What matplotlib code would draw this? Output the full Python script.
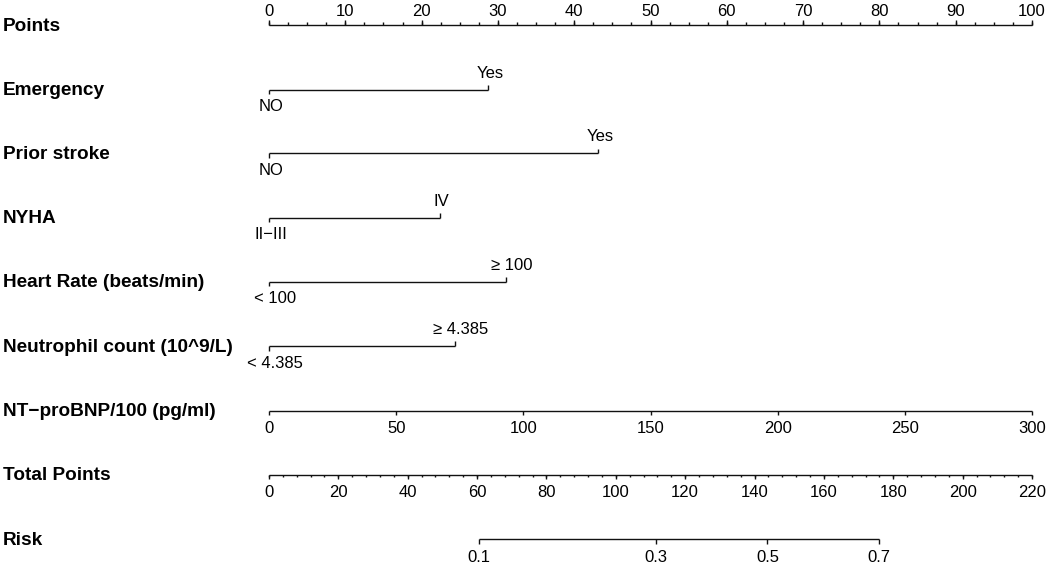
import numpy as np
import matplotlib
matplotlib.use("Agg")
import matplotlib.pyplot as plt
from matplotlib.transforms import blended_transform_factory

plt.rcParams['font.family'] = ['Liberation Sans', 'DejaVu Sans']

# ---------------- data ----------------
row_labels = ["Points", "Emergency", "Prior stroke", "NYHA",
              "Heart Rate (beats/min)", "Neutrophil count (10^9/L)",
              "NT\u2212proBNP/100 (pg/ml)", "Total Points", "Risk"]

points_max = 100
points_major = np.arange(0, 101, 10)
points_minor = np.arange(0, 100.01, 2.5)

cat_low = ["NO", "NO", "II\u2212III", "< 100", "< 4.385"]
cat_high = ["Yes", "Yes", "IV", "\u2265 100", "\u2265 4.385"]
cat_points = [28.7, 43.1, 22.4, 31.0, 24.4]

ntbnp_values = [0, 50, 100, 150, 200, 250, 300]
ntbnp_max_points = 100

total_max = 220
total_major = np.arange(0, 221, 20)
total_minor = np.arange(0, 220.01, 4)

risk_ticks = [0.1, 0.3, 0.5, 0.7]
risk_mid_total = 143.7   # total points where risk = 0.5
risk_per_logit = 37.9    # total points per logit unit

# ---------------- layout ----------------
W, H = 1053, 564
fig = plt.figure(figsize=(W / 100, H / 100), dpi=100)
ax = fig.add_axes([269 / W, 0, 763 / W, 1])
ax.set_xlim(0, points_max)
ax.set_ylim(H, 0)
ax.axis('off')

row_y = [25, 89.5, 153.2, 217.8, 281.8, 346.0, 410.6, 474.6, 539.4]
lab_tr = blended_transform_factory(fig.transFigure, ax.transData)

LC = '#111111'
LW = 1.0
TFS = 12.0
LFS = 13.7
MAJ = 4.6
MIN = 2.6

def hline(x0, x1, y):
    ax.plot([x0, x1], [y, y], color=LC, lw=LW, solid_capstyle='butt', clip_on=False)

def tick(x, y, length, up=False):
    ax.plot([x, x], [y, y - length if up else y + length], color=LC, lw=LW,
            solid_capstyle='butt', clip_on=False)

def cat_shift(s):
    return 0.75 if s[0] in "<\u2265" else 0.25

# row labels
for lab, y in zip(row_labels, row_y):
    ax.text(3 / W, y + 5.6, lab, transform=lab_tr, fontsize=LFS,
            fontweight='bold', ha='left', va='baseline', color='black')

# Points axis
y = row_y[0]
hline(0, points_max, y)
for v in points_minor:
    tick(v, y, MIN, up=True)
for v in points_major:
    tick(v, y, MAJ, up=True)
    ax.text(v, y - 9.5, f"{v:g}", fontsize=TFS, ha='center', va='baseline')

# categorical variables
for i in range(len(cat_points)):
    y = row_y[i + 1]
    p = cat_points[i]
    hline(0, p, y)
    tick(0, y, MAJ, up=False)
    tick(p, y, MAJ, up=True)
    ax.text(cat_shift(cat_low[i]), y + 21.6, cat_low[i], fontsize=TFS,
            ha='center', va='baseline')
    ax.text(p + cat_shift(cat_high[i]), y - 11.8, cat_high[i], fontsize=TFS,
            ha='center', va='baseline')

# NT-proBNP
y = row_y[6]
scale = ntbnp_max_points / max(ntbnp_values)
hline(0, max(ntbnp_values) * scale, y)
for v in ntbnp_values:
    tick(v * scale, y, MAJ)
    ax.text(v * scale, y + 22.3, f"{v}", fontsize=TFS, ha='center', va='baseline')

# Total points
y = row_y[7]
tscale = points_max / total_max
hline(0, total_max * tscale, y)
for v in total_minor:
    tick(v * tscale, y, MIN)
for v in total_major:
    tick(v * tscale, y, MAJ)
    ax.text(v * tscale, y + 22.3, f"{v:g}", fontsize=TFS, ha='center', va='baseline')

# Risk
y = row_y[8]
rp = np.array(risk_ticks)
risk_total = risk_mid_total + risk_per_logit * np.log(rp / (1 - rp))
risk_x = risk_total * tscale
hline(risk_x.min(), risk_x.max(), y)
for v, x in zip(risk_ticks, risk_x):
    tick(x, y, MAJ)
    ax.text(x, y + 22.3, f"{v:g}", fontsize=TFS, ha='center', va='baseline')

fig.savefig("out.png", dpi=100, facecolor='white')
